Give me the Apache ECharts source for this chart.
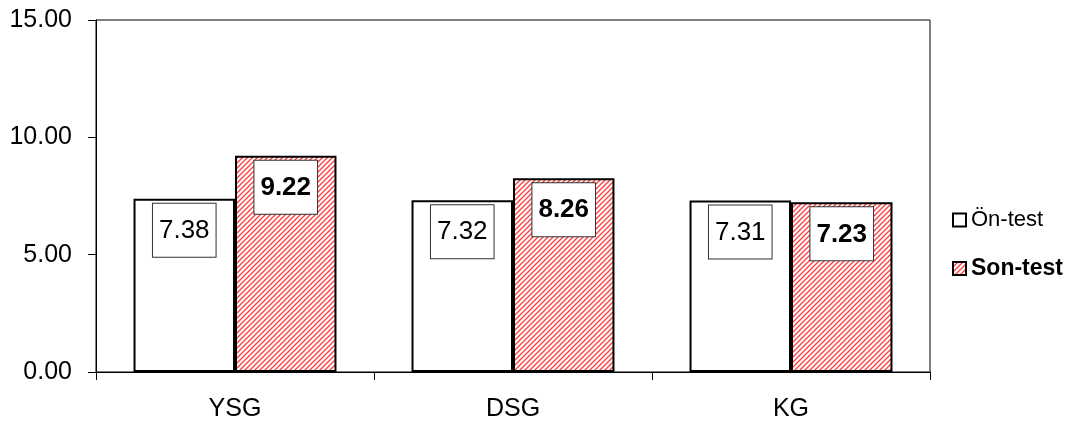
<!DOCTYPE html>
<html><head><meta charset="utf-8">
<script src="https://cdn.jsdelivr.net/npm/echarts@6/dist/echarts.min.js"></script>
<style>html,body{margin:0;padding:0;background:#fff}#c{width:1084px;height:429px}</style>
</head><body><div id="c"></div>
<script>
const categories = ['YSG', 'DSG', 'KG'];
const seriesNames = ['Ön-test', 'Son-test'];
const preTest = [7.38, 7.32, 7.31];
const postTest = [9.22, 8.26, 7.23];
const yTicks = [0, 5, 10, 15];

function hatch() {
  const c = document.createElement('canvas');
  c.width = 5; c.height = 5;
  const g = c.getContext('2d');
  g.fillStyle = '#fff'; g.fillRect(0, 0, 5, 5);
  g.strokeStyle = '#ff3b3b'; g.lineWidth = 1.3;
  g.beginPath();
  g.moveTo(-1, 6); g.lineTo(6, -1);
  g.moveTo(-1, 1); g.lineTo(1, -1);
  g.moveTo(4, 6); g.lineTo(6, 4);
  g.stroke();
  return c;
}
const font = '"Liberation Sans", Arial, Helvetica, sans-serif';
const chart = echarts.init(document.getElementById('c'), null, {renderer: 'canvas'});
const lbl = (bold) => ({
  show: true, position: 'insideTop', distance: 5,
  formatter: p => p.value.toFixed(2),
  fontFamily: font, fontSize: 26, fontWeight: bold ? 'bold' : 'normal', color: '#000',
  backgroundColor: '#fff', borderColor: '#333', borderWidth: 1,
  padding: [14, 6, 13, 6]
});
chart.setOption({
  animation: false,
  grid: {left: 96, top: 20, right: 154, bottom: 57, show: true, borderColor: '#000', borderWidth: 1, backgroundColor: 'transparent'},
  legend: {
    orient: 'vertical', left: 947, top: 204, itemGap: 26, itemWidth: 13, itemHeight: 13, icon: 'rect',
    textStyle: {fontFamily: font, fontSize: 22, color: '#000'},
    data: [{name: seriesNames[0]}, {name: seriesNames[1], textStyle: {fontWeight: 'bold', fontSize: 23}}]
  },
  xAxis: {
    type: 'category', data: categories,
    axisLine: {lineStyle: {color: '#000', width: 1}},
    axisTick: {show: true, length: 8, lineStyle: {color: '#000'}},
    axisLabel: {fontFamily: font, fontSize: 25, color: '#000', margin: 25}
  },
  yAxis: {
    type: 'value', min: yTicks[0], max: yTicks[yTicks.length - 1], interval: 5,
    axisLine: {show: true, lineStyle: {color: '#000'}},
    axisTick: {show: true, length: 8, lineStyle: {color: '#000'}},
    splitLine: {show: false},
    axisLabel: {fontFamily: font, fontSize: 25, color: '#000', margin: 24, formatter: v => v.toFixed(2)}
  },
  series: [
    {name: seriesNames[0], type: 'bar', data: preTest, barGap: '0%', barCategoryGap: '27%',
     itemStyle: {color: '#fff', borderColor: '#000', borderWidth: 2}, label: lbl(false)},
    {name: seriesNames[1], type: 'bar', data: postTest, barGap: '0%', barCategoryGap: '27%',
     itemStyle: {color: {image: hatch(), repeat: 'repeat'}, borderColor: '#000', borderWidth: 2}, label: lbl(true)}
  ]
});
</script></body></html>
